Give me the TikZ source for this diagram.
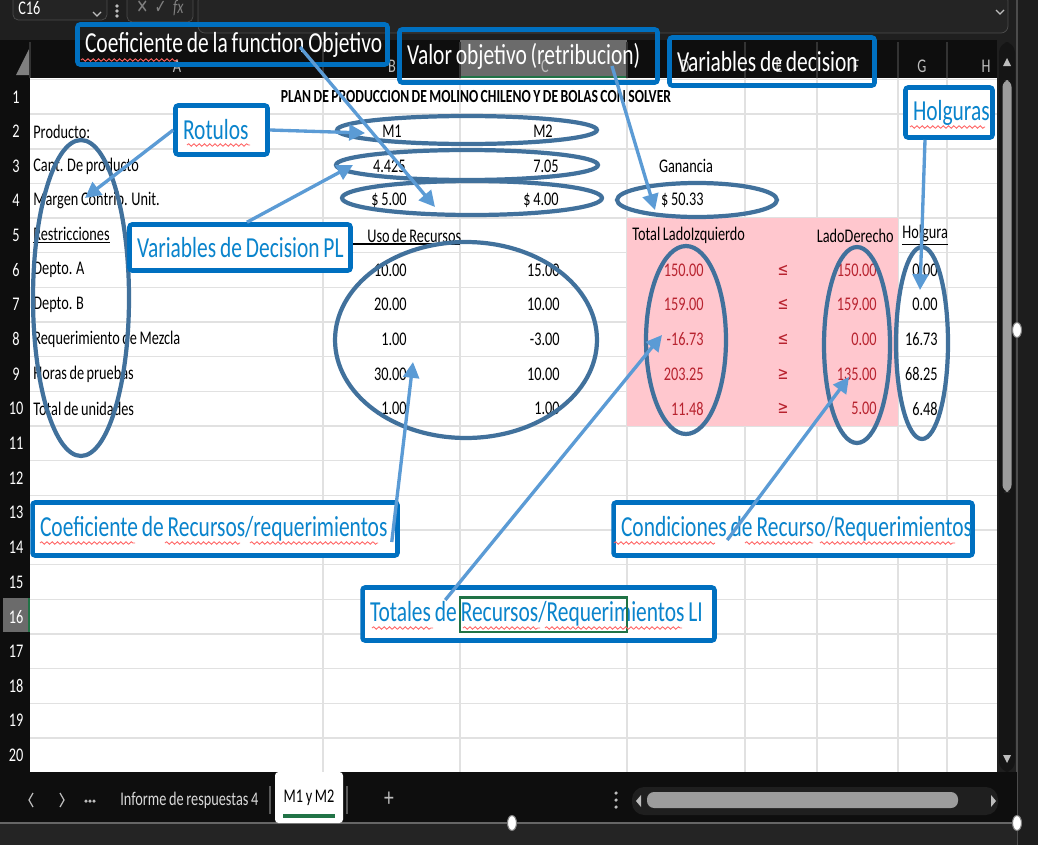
\documentclass[tikz,border=0pt]{standalone}
\usepackage{fontspec}
\setmainfont{Carlito}[FakeStretch=0.74, WordSpace=0.8]
\newfontfamily\symfont{DejaVu Sans}[FakeStretch=0.74]
\usetikzlibrary{arrows.meta, decorations.pathmorphing}

\definecolor{frame}{HTML}{1F1F1F}
\definecolor{hdrbg}{HTML}{0E0E0E}
\definecolor{hdrtxt}{HTML}{BDBDBD}
\definecolor{barbg}{HTML}{242424}
\definecolor{gridgray}{HTML}{E1E1E1}
\definecolor{ringblue}{HTML}{41719C}
\definecolor{arrowblue}{HTML}{5B9BD5}
\definecolor{boxblue}{HTML}{0070C0}
\definecolor{lblblue}{HTML}{0A84CC}
\definecolor{badfill}{HTML}{FFC7CE}
\definecolor{badtext}{HTML}{B8232F}
\definecolor{selgray}{HTML}{6B6B6B}
\definecolor{selgreen}{HTML}{217346}
\definecolor{thumbgray}{HTML}{9C9C9C}

\newcommand{\cellfont}{\fontsize{11}{13}\selectfont}
\newcommand{\lblfont}{\fontsize{16.5}{19}\selectfont}
\newcommand{\relsign}[1]{{\symfont\fontsize{10}{12}\selectfont #1}}
\newcommand{\lbltext}[2]{\makebox[#1][l]{#2}}

\begin{document}
\begin{tikzpicture}[x=0.02cm, y=-0.02cm,
    cell/.style={font=\cellfont, inner sep=0pt, text=black},
    num/.style={cell, anchor=east},
    bad/.style={num, text=badtext},
    colhdr/.style={font=\cellfont, text=hdrtxt, inner sep=0pt},
    rownum/.style={font=\cellfont, text=white, inner sep=0pt},
    gridline/.style={draw=gridgray, line width=0.8pt},
    hdrsep/.style={draw=white!20!black, line width=0.6pt},
    ring/.style={draw=ringblue, line width=2.4pt},
    lbl/.style={draw=boxblue, line width=2.6pt, rounded corners=1.5pt,
        fill=white, text=lblblue, font=\lblfont,
        inner xsep=0.15cm, inner ysep=0pt},
    toplbl/.style={lbl, fill=none, text=white},
    callout/.style={draw=arrowblue, line width=1.9pt,
        -{Triangle[length=9pt, width=9pt]}},
    squig/.style={draw=red!60, line width=0.5pt, decorate,
        decoration={snake, amplitude=0.7pt, segment length=3pt}},
    handle/.style={fill=white, draw=gray, line width=0.6pt}
  ]
  \useasboundingbox (0,0) rectangle (1038,845);

  % window chrome
  \fill[frame] (0,0) rectangle (1038,845);
  \fill[barbg!80!black] (1017,0) rectangle (1038,845);
  \draw[gray!60!black, line width=0.6pt] (1017,0) -- (1017,845);
  \draw[fill=barbg, draw=white!30!black, rounded corners=3pt] (13,-6) rectangle (107,20);
  \node[rownum, anchor=west] (nameBox) at (18,8) {C16};
  \draw[hdrtxt, line width=0.7pt] (93,12) -- (97,16) -- (101,12);
  \foreach \d in {6,11,16} \fill[hdrtxt] (117,\d) circle (1pt);
  \draw[fill=barbg, draw=white!30!black, rounded corners=3pt] (127,-6) rectangle (193,22);
  \node[colhdr, text=gray] (fxBtns) at (160,8) {{\symfont ✕\,\,✓}\,\,\textit{fx}};
  \draw[fill=barbg, draw=white!30!black, rounded corners=4pt] (198,-6) rectangle (1008,33);
  \draw[hdrtxt, line width=0.7pt] (996,10) -- (1000,14) -- (1004,10);

  % column headers
  \fill[hdrbg] (0,40) rectangle (997,78);
  \fill[selgray] (460,40) rectangle (627,78);
  \draw[selgreen, line width=1.5pt] (460,77) -- (627,77);
  \fill[gray] (16,75) -- (30,47) -- (30,75) -- cycle;
  \foreach \x in {30,323,460,627,745,817,898,947}
    \draw[hdrsep] (\x,42) -- (\x,78);
  \foreach \x/\c in {177/A,392/B,545/C,685/D,779/E,856/F,922/G,986/H}
    \node[colhdr] (col\c) at (\x,66) {\c};

  % sheet and row numbers
  \fill[hdrbg] (0,78) rectangle (30,772);
  \fill[selgray] (3,597.5) rectangle (30,632);
  \draw[selgreen, line width=1.2pt] (29.5,597.5) -- (29.5,632);
  \fill[white] (30,78) rectangle (997,772);
  \foreach \k in {0,...,20}
    \draw[gridline] (30,{79.5+34.65*\k}) -- (997,{79.5+34.65*\k});
  \foreach \x in {323,460,627,745,817,898,947}
    \draw[gridline] (\x,78) -- (\x,772);
  \foreach \k in {1,...,20}{
    \pgfmathsetmacro\yc{79.5+34.65*(\k-0.5)}
    \node[rownum] (row\k) at (16,\yc) {\k};
  }
  \fill[badfill] (627,218.1) rectangle (898,426);

  % scroll bars
  \fill[hdrbg!60!frame, rounded corners=6pt] (999,42) rectangle (1015,772);
  \fill[hdrtxt] (1003,66) -- (1007,58) -- (1011,66) -- cycle;
  \fill[hdrtxt] (1003,755) -- (1007,763) -- (1011,755) -- cycle;
  \fill[thumbgray, rounded corners=4pt] (1002.5,80) rectangle (1011.5,492);

  % title and cells
  \node[cell, font=\fontsize{10.5}{12}\selectfont\bfseries] (title) at (476,97) {PLAN DE PRODUCCION DE MOLINO CHILENO Y DE BOLAS CON SOLVER};
  \node[cell, anchor=west] (prod) at (33,131.5) {Producto:};
  \node[cell] (m1) at (392,131.5) {M1};
  \node[cell] (m2) at (543,131.5) {M2};
  \node[cell, anchor=west] (cant) at (33,166.1) {Cant. De producto};
  \node[num] (x1) at (406,166.1) {4.425};
  \node[num] (x2) at (559,166.1) {7.05};
  \node[cell] (gan) at (686,166.1) {Ganancia};
  \node[cell, anchor=west] (marg) at (33,200.8) {Margen Contrib. Unit.};
  \node[num] (c1) at (407,200.8) {\$ 5.00};
  \node[num] (c2) at (559,200.8) {\$ 4.00};
  \node[num] (zval) at (704,200.8) {\$ 50.33};
  \node[cell, anchor=west] (restr) at (33,235.4) {\underline{Restricciones}};
  \node[cell, anchor=west] (uso) at (367,235.4) {Uso de Recursos};
  \draw[black, line width=0.6pt] (323,244) -- (460,244);
  \node[cell, anchor=west] (ladoIz) at (632,235.4) {Total LadoIzquierdo};
  \node[cell, anchor=east] (ladoDe) at (894,235.4) {LadoDerecho};
  \node[cell, anchor=west] (holg) at (902,235.4) {\underline{Holgura}};
  \foreach \r/\lab/\b/\c/\d/\s/\f/\g in {
      6/Depto. A/10.00/15.00/150.00/≤/150.00/0.00,
      7/Depto. B/20.00/10.00/159.00/≤/159.00/0.00,
      8/Requerimiento de Mezcla/1.00/-3.00/-16.73/≤/0.00/16.73,
      9/Horas de pruebas/30.00/10.00/203.25/≥/135.00/68.25,
      10/Total de unidades/1.00/1.00/11.48/≥/5.00/6.48}{
    \pgfmathsetmacro\yc{79.5+34.65*(\r-0.5)}
    \node[cell, anchor=west] (lab\r) at (33,\yc) {\lab};
    \node[num] (b\r) at (407,\yc) {\b};
    \node[num] (c\r) at (560,\yc) {\c};
    \node[bad] (d\r) at (704,\yc) {\d};
    \node[cell, text=badtext] (s\r) at (783,\yc) {\relsign{\s}};
    \node[bad] (f\r) at (877,\yc) {\f};
    \node[num] (g\r) at (938,\yc) {\g};
  }

  % circled groups
  \draw[ring] (467,130) ellipse [x radius=2.6cm, y radius=0.28cm];
  \draw[ring] (467,165) ellipse [x radius=2.62cm, y radius=0.3cm];
  \draw[ring] (472,198) ellipse [x radius=2.6cm, y radius=0.34cm];
  \draw[ring] (697,200) ellipse [x radius=1.6cm, y radius=0.34cm];
  \draw[ring] (81,298) ellipse [x radius=0.96cm, y radius=3.16cm];
  \draw[ring] (466,340) ellipse [x radius=2.62cm, y radius=1.96cm];
  \draw[ring] (686,340) ellipse [x radius=0.8cm, y radius=1.88cm];
  \draw[ring] (857,345) ellipse [x radius=0.66cm, y radius=1.96cm];
  \draw[ring] (922,343) ellipse [x radius=0.52cm, y radius=1.92cm];

  % annotation boxes
  \node[toplbl, minimum height=0.8cm] (coefFO) at (232.5,44.5) {\lbltext{5.9cm}{Coeficiente de la function Objetivo}};
  \node[toplbl, minimum height=1.06cm] (valorObj) at (528.5,56) {\lbltext{4.86cm}{Valor objetivo (retribucion)}};
  \node[toplbl, minimum height=0.96cm] (varDecis) at (772,61.5) {\lbltext{3.8cm}{Variables de decision}};
  \node[lbl, minimum height=0.98cm] (rotulos) at (221.5,130) {\lbltext{1.54cm}{Rotulos}};
  \node[lbl, minimum height=0.92cm] (varDecPL) at (240,247.5) {\lbltext{4.12cm}{Variables de Decision PL}};
  \node[lbl, minimum height=1.0cm] (holguras) at (949,112.5) {\lbltext{1.44cm}{Holguras}};
  \node[lbl, minimum height=1.06cm] (coefRec) at (215,529) {\lbltext{7.0cm}{Coeficiente de Recursos/requerimientos}};
  \node[lbl, minimum height=1.06cm] (totRec) at (538.5,614) {\lbltext{6.74cm}{Totales de Recursos/Requerimientos LI}};
  \node[lbl, minimum height=1.06cm] (condRec) at (793,529) {\lbltext{6.88cm}{Condiciones de Recurso/Requerimientos}};
  \draw[selgreen, line width=1.2pt] (460,597.5) rectangle (627,632);

  % spelling marks
  \foreach \xa/\xb/\yy in {81/178/60, 187/250/145, 910/985/127,
      40/135/543, 165/240/543, 250/378/543,
      372/433/628, 463/540/628, 545/682/628,
      614/715/543, 745/813/543, 820/955/543}
    \draw[squig] (\xa,\yy) -- (\xb,\yy);

  % arrow tips
  \coordinate (tipObj) at (435,207);
  \coordinate (tipVal) at (655,210);
  \coordinate (tipM1) at (365,133);
  \coordinate (tipLab) at (85,198);
  \coordinate (tipVar) at (353,165);
  \coordinate (tipHol) at (920,290);
  \coordinate (tipCoef) at (413,362);
  \coordinate (tipTot) at (662,335);
  \coordinate (tipCond) at (849,377);

  \draw[callout] ([xshift=1.35cm,yshift=-0.05cm]coefFO.center) -- (tipObj);
  \draw[callout] ([xshift=1.67cm,yshift=-0.2cm]valorObj.center) -- (tipVal);
  \draw[callout] (rotulos.east) -- (tipM1);
  \draw[callout] (rotulos.west) -- (tipLab);
  \draw[callout] ([xshift=0.14cm]varDecPL.north) -- (tipVar);
  \draw[callout] ([xshift=-0.48cm]holguras.south) -- (tipHol);
  \draw[callout] ([xshift=-0.16cm,yshift=-0.26cm]coefRec.east) -- (tipCoef);
  \draw[callout] ([xshift=1.7cm,yshift=0.28cm]totRec.west) -- (tipTot);
  \draw[callout] ([xshift=2.32cm,yshift=-0.22cm]condRec.west) -- (tipCond);

  % sheet tabs
  \fill[hdrbg] (0,772) rectangle (1017,823);
  \fill[barbg] (0,823) rectangle (1017,845);
  \draw[white!40!black, line width=0.6pt] (0,823) -- (1017,823);
  \draw[hdrtxt, line width=0.7pt] (33,793) -- (29,800) -- (33,807);
  \draw[hdrtxt, line width=0.7pt] (60,793) -- (64,800) -- (60,807);
  \foreach \x in {86,90,94} \fill[hdrtxt] (\x,801) circle (1pt);
  \node[rownum, anchor=west, text=white!85!black] (tabInf) at (120,800) {Informe de respuestas 4};
  \draw[white!35!black, line width=0.6pt] (270,786) -- (270,814);
  \fill[white, rounded corners=2pt] (275,772) rectangle (343,823);
  \node[cell] (tabM) at (309,798) {M1 y M2};
  \draw[selgreen, line width=1.8pt] (283,816) -- (335,816);
  \draw[white!35!black, line width=0.6pt] (347,786) -- (347,814);
  \node[rownum, font=\fontsize{15}{16}\selectfont, text=hdrtxt] (tabAdd) at (389,799) {+};
  \foreach \d in {793,800,807} \fill[hdrtxt] (616,\d) circle (1pt);
  \fill[frame, rounded corners=7pt] (632,787) rectangle (998,815);
  \fill[thumbgray, rounded corners=4pt] (647,792) rectangle (958,808);
  \fill[hdrtxt] (641,795) -- (636,801) -- (641,807) -- cycle;
  \fill[hdrtxt] (991,795) -- (996,801) -- (991,807) -- cycle;

  % picture handles
  \draw[handle] (1017,330) ellipse [x radius=0.09cm, y radius=0.15cm];
  \draw[handle] (512,823) ellipse [x radius=0.09cm, y radius=0.15cm];
  \draw[handle] (1017,823) ellipse [x radius=0.09cm, y radius=0.15cm];
\end{tikzpicture}
\end{document}
